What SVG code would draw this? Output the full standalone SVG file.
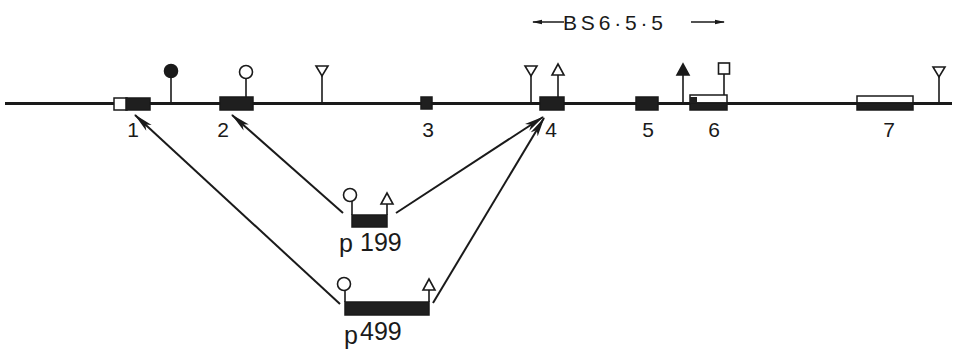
<svg xmlns="http://www.w3.org/2000/svg" width="956" height="356" viewBox="0 0 956 356">
<defs>
<style>
.ln{stroke:#1a1a1a;stroke-width:1.6;fill:none}
.main{stroke:#1a1a1a;stroke-width:3;fill:none}
.blk{fill:#1f1f1f;stroke:#1a1a1a;stroke-width:1.5}
.wht{fill:#fff;stroke:#1a1a1a;stroke-width:1.5}
.open{fill:#fff;stroke:#1a1a1a;stroke-width:1.6}
.solid{fill:#1a1a1a;stroke:#1a1a1a;stroke-width:1.6}
.lbl{font-family:"Liberation Sans",Arial,sans-serif;font-size:21px;fill:#1a1a1a}
.big{font-size:25px}
.arr{stroke:#1a1a1a;stroke-width:2;fill:none;marker-end:url(#ah)}
</style>
<marker id="ah" viewBox="0 0 20 9" refX="19" refY="4.5" markerWidth="20" markerHeight="9" markerUnits="userSpaceOnUse" orient="auto">
<path d="M0,0.5 L20,4.5 L0,8.5 L5,4.5 Z" fill="#1a1a1a"/>
</marker>
<marker id="sa" viewBox="0 0 10 6" refX="9" refY="3" markerWidth="10" markerHeight="6" markerUnits="userSpaceOnUse" orient="auto">
<path d="M0,0.8 L10,3 L0,5.2 Z" fill="#1a1a1a"/>
</marker>
</defs>

<g id="gene">
<line class="main" x1="5" y1="103.5" x2="952" y2="103.5"/>
</g>

<g id="bs-label">
<line x1="564" y1="22" x2="533" y2="22" stroke="#1a1a1a" stroke-width="1.5" marker-end="url(#sa)"/>
<text class="lbl" x="563" y="30" font-size="20" textLength="100" lengthAdjust="spacing">BS6·5·5</text>
<line x1="691" y1="22" x2="724" y2="22" stroke="#1a1a1a" stroke-width="1.5" marker-end="url(#sa)"/>
</g>

<g id="exon1">
<rect class="wht" x="114" y="98" width="13" height="12"/>
<rect class="blk" x="126" y="98" width="24" height="12"/>
<text class="lbl" x="133" y="137" text-anchor="middle">1</text>
</g>
<g id="site-filled-circle">
<line class="ln" x1="171" y1="77" x2="171" y2="103"/>
<circle class="solid" cx="171" cy="71" r="6.5"/>
</g>
<g id="exon2">
<rect class="blk" x="220" y="97" width="33" height="13"/>
<text class="lbl" x="223" y="137" text-anchor="middle">2</text>
</g>
<g id="site-open-circle">
<line class="ln" x1="246" y1="78" x2="246" y2="97"/>
<circle class="open" cx="246" cy="72" r="6.5"/>
</g>
<g id="site-tri-down-1">
<line class="ln" x1="322" y1="75" x2="322" y2="103"/>
<path class="open" d="M316,66 L328,66 L322,76 Z"/>
</g>
<g id="exon3">
<rect class="blk" x="421" y="97" width="11" height="12"/>
<text class="lbl" x="428" y="137" text-anchor="middle">3</text>
</g>
<g id="site-tri-down-2">
<line class="ln" x1="531" y1="75" x2="531" y2="103"/>
<path class="open" d="M525,66 L537,66 L531,76 Z"/>
</g>
<g id="exon4">
<rect class="blk" x="540" y="97" width="24" height="13"/>
<text class="lbl" x="551" y="137" text-anchor="middle">4</text>
</g>
<g id="site-tri-up-1">
<line class="ln" x1="558" y1="75" x2="558" y2="97"/>
<path class="open" d="M552,75 L564,75 L558,64 Z"/>
</g>
<g id="exon5">
<rect class="blk" x="636" y="97" width="22" height="13"/>
<text class="lbl" x="648" y="137" text-anchor="middle">5</text>
</g>
<g id="site-tri-up-filled">
<line class="ln" x1="683" y1="75" x2="683" y2="103"/>
<path class="solid" d="M677,75 L689,75 L683,64 Z"/>
</g>
<g id="exon6">
<rect class="wht" x="690" y="95" width="37" height="8"/>
<rect class="blk" x="690" y="103" width="37" height="7"/>
<rect x="690" y="97" width="7" height="6" fill="#1f1f1f"/>
<text class="lbl" x="714" y="137" text-anchor="middle">6</text>
</g>
<g id="site-square">
<line class="ln" x1="724" y1="74" x2="724" y2="95"/>
<rect class="open" x="718.5" y="63" width="11" height="11"/>
</g>
<g id="exon7">
<rect class="wht" x="857" y="96" width="56" height="7"/>
<rect class="blk" x="857" y="103" width="56" height="7"/>
<text class="lbl" x="889" y="137" text-anchor="middle">7</text>
</g>
<g id="site-tri-down-3">
<line class="ln" x1="939" y1="76" x2="939" y2="103"/>
<path class="open" d="M933,67 L945,67 L939,77 Z"/>
</g>

<g id="p199">
<rect class="blk" x="352" y="215" width="35" height="12"/>
<line class="ln" x1="352" y1="201" x2="352" y2="215"/>
<circle class="open" cx="350" cy="195" r="6.5"/>
<line class="ln" x1="387" y1="204" x2="387" y2="215"/>
<path class="open" d="M381,204 L393,204 L387,193 Z"/>
<text class="lbl big" x="339" y="252">p</text>
<text class="lbl big" x="360" y="251">199</text>
</g>

<g id="p499">
<rect class="blk" x="345" y="302" width="84" height="13"/>
<line class="ln" x1="345" y1="290" x2="345" y2="302"/>
<circle class="open" cx="344" cy="284" r="6.5"/>
<line class="ln" x1="429" y1="290" x2="429" y2="302"/>
<path class="open" d="M423,290 L435,290 L429,279 Z"/>
<text class="lbl big" x="344" y="344">p</text>
<text class="lbl big" x="360" y="340" font-size="27">499</text>
</g>

<g id="connectors">
<line class="arr" x1="340" y1="304" x2="135" y2="115"/>
<line class="arr" x1="343" y1="213" x2="232" y2="115"/>
<line class="arr" x1="396" y1="213" x2="543" y2="117"/>
<line class="arr" x1="433" y1="303" x2="544" y2="118"/>
</g>
</svg>
